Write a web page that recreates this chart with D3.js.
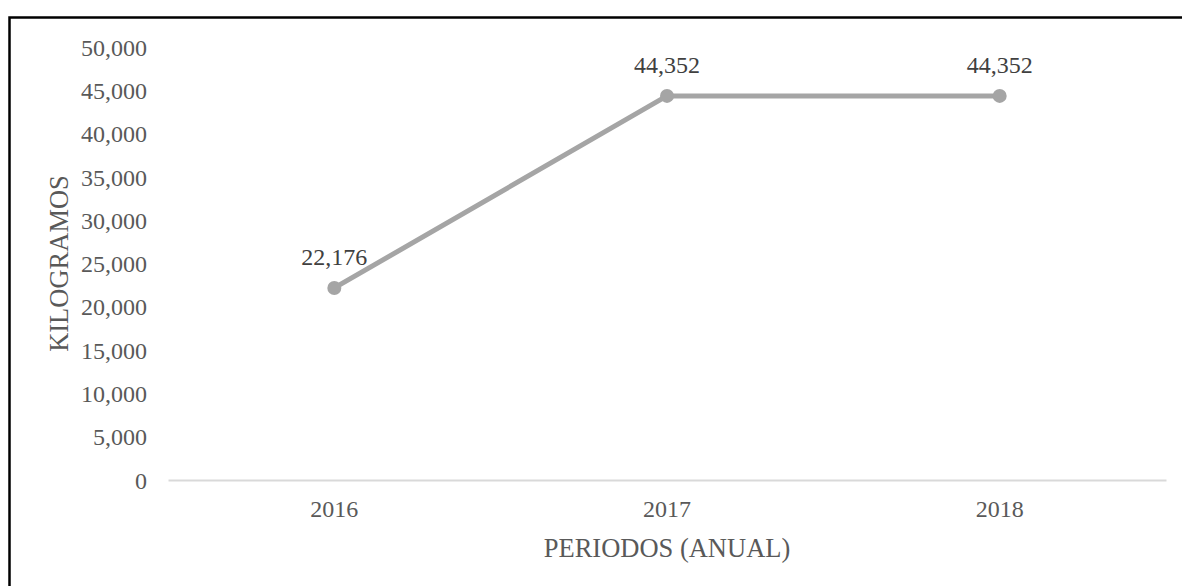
<!DOCTYPE html>
<html>
<head>
<meta charset="utf-8">
<script src="https://cdn.jsdelivr.net/npm/d3@7"></script>
<style>
  html, body { margin: 0; padding: 0; background: #fff; }
  svg { display: block; }
  text { font-family: "Liberation Serif", "Times New Roman", serif; }
</style>
</head>
<body>
<svg id="chart" width="1182" height="586"></svg>
<script>
const categories = ["2016", "2017", "2018"];
const values = [22176, 44352, 44352];
const yTicks = [0, 5000, 10000, 15000, 20000, 25000, 30000, 35000, 40000, 45000, 50000];
const xTitle = "PERIODOS (ANUAL)";
const yTitle = "KILOGRAMOS";

const svg = d3.select("#chart");
const W = 1182, H = 586;
const plot = { left: 168, right: 1166, top: 47, bottom: 480 };

svg.append("rect").attr("width", W).attr("height", H).attr("fill", "#fff");
// outer border (only top/left visible in frame)
svg.append("rect")
  .attr("x", 9.5).attr("y", 17.5)
  .attr("width", W + 20).attr("height", H + 20)
  .attr("fill", "none").attr("stroke", "#000").attr("stroke-width", 2.5);

const fmt = d3.format(",");
const x = d3.scaleBand().domain(categories).range([plot.left, plot.right]);
const y = d3.scaleLinear().domain([0, 50000]).range([plot.bottom, plot.top]);

// y axis labels
const yAxis = d3.axisLeft(y).tickValues(yTicks).tickFormat(fmt).tickSize(0).tickPadding(0);
const gy = svg.append("g").attr("transform", `translate(147,0)`).call(yAxis);
gy.select(".domain").remove();
gy.selectAll("text")
  .attr("fill", "#595959").attr("font-size", 24)
  .attr("font-family", "'Liberation Serif', 'Times New Roman', serif")
  .attr("dy", "0.34em");

// x axis
const xAxis = d3.axisBottom(x).tickSize(0).tickPadding(0);
const gx = svg.append("g").attr("transform", `translate(0,${plot.bottom})`).call(xAxis);
gx.select(".domain").attr("stroke", "#D9D9D9").attr("stroke-width", 2);
gx.selectAll("text")
  .attr("fill", "#595959").attr("font-size", 24)
  .attr("font-family", "'Liberation Serif', 'Times New Roman', serif")
  .attr("y", 37).attr("dy", 0);

const cx = d => x(d) + x.bandwidth() / 2;

// line
const line = d3.line().x((d, i) => cx(categories[i])).y(d => y(d));
svg.append("path").datum(values)
  .attr("d", line).attr("fill", "none")
  .attr("stroke", "#A5A5A5").attr("stroke-width", 5)
  .attr("stroke-linejoin", "round").attr("stroke-linecap", "round");

// markers
svg.selectAll("circle.pt").data(values).enter().append("circle")
  .attr("class", "pt")
  .attr("cx", (d, i) => cx(categories[i]))
  .attr("cy", d => y(d))
  .attr("r", 7).attr("fill", "#A5A5A5");

// data labels
svg.selectAll("text.lbl").data(values).enter().append("text")
  .attr("class", "lbl")
  .attr("x", (d, i) => cx(categories[i]))
  .attr("y", d => y(d) - 23)
  .attr("text-anchor", "middle")
  .attr("font-size", 24).attr("fill", "#404040")
  .text(d => fmt(d));

// axis titles
svg.append("text")
  .attr("x", (plot.left + plot.right) / 2).attr("y", 557)
  .attr("text-anchor", "middle").attr("font-size", 26.5).attr("fill", "#595959")
  .text(xTitle);

svg.append("text")
  .attr("transform", `translate(68,${(plot.top + plot.bottom) / 2}) rotate(-90)`)
  .attr("text-anchor", "middle").attr("font-size", 26.5).attr("fill", "#595959")
  .text(yTitle);
</script>
</body>
</html>
